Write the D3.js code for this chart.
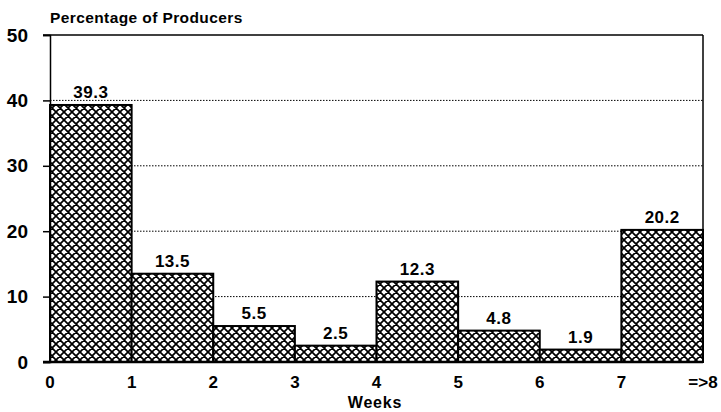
<!DOCTYPE html>
<html><head><meta charset="utf-8">
<script src="https://cdn.jsdelivr.net/npm/d3@7"></script>
<style>body{margin:0;background:#fff}text{font-family:"Liberation Sans",Arial,sans-serif;font-weight:bold;fill:#000}</style>
</head><body><svg id="c" width="721" height="412"></svg>
<script>
const weeksStart = [0,1,2,3,4,5,6,7];
const values = [39.3,13.5,5.5,2.5,12.3,4.8,1.9,20.2];
const xTickLabels = ["0","1","2","3","4","5","6","7","=>8"];
const yTicks = [0,10,20,30,40,50];

const svg = d3.select("#c");
const m = {l:50,r:703,t:35,b:362};
const x = d3.scaleLinear().domain([0,8]).range([m.l,m.r]);
const y = d3.scaleLinear().domain([0,50]).range([m.b,m.t]);

const defs = svg.append("defs");
const s = 8;
const p = defs.append("pattern").attr("id","hatch").attr("patternUnits","userSpaceOnUse").attr("width",s).attr("height",s);
p.append("rect").attr("width",s).attr("height",s).attr("fill","#fff");
p.append("path").attr("d",`M-1,1 L1,-1 M0,${s} L${s},0 M${s-1},${s+1} L${s+1},${s-1} M-1,${s-1} L1,${s+1} M0,0 L${s},${s} M${s-1},-1 L${s+1},1`).attr("stroke","#000").attr("stroke-width",1.7);

// gridlines
svg.append("g").selectAll("line").data(yTicks.filter(d=>d>0&&d<50)).join("line")
  .attr("x1",m.l).attr("x2",m.r).attr("y1",d=>y(d)).attr("y2",d=>y(d))
  .attr("stroke","#000").attr("stroke-width",1).attr("stroke-dasharray","1.5,1.5");

// frame top/right
svg.append("line").attr("x1",m.l-7).attr("x2",m.r).attr("y1",y(50)).attr("y2",y(50)).attr("stroke","#000").attr("stroke-width",1.5);
svg.append("line").attr("x1",m.r).attr("x2",m.r).attr("y1",y(50)).attr("y2",y(0)).attr("stroke","#000").attr("stroke-width",1.5);

// bars
svg.append("g").selectAll("rect").data(values).join("rect")
  .attr("x",(d,i)=>x(weeksStart[i])).attr("width",(d,i)=>x(weeksStart[i]+1)-x(weeksStart[i]))
  .attr("y",d=>y(d)).attr("height",d=>y(0)-y(d))
  .attr("fill","url(#hatch)").attr("stroke","#000").attr("stroke-width",2);

// bar labels
svg.append("g").selectAll("text").data(values).join("text")
  .attr("x",(d,i)=>x(weeksStart[i]+0.5)).attr("y",d=>y(d)-7)
  .attr("text-anchor","middle").attr("font-size",17).attr("letter-spacing",0.5).text(d=>d.toFixed(1));

// y axis
const ya = svg.append("g").attr("transform",`translate(${m.l},0)`).call(d3.axisLeft(y).tickValues(yTicks).tickSize(7).tickPadding(15));
ya.select(".domain").attr("stroke-width",1.5);
ya.selectAll(".tick line").attr("stroke-width",1.5);
ya.selectAll("text").attr("font-size",19).attr("font-family","Liberation Sans").attr("font-weight","bold");

// x axis baseline
svg.append("line").attr("x1",m.l-7).attr("x2",m.r).attr("y1",y(0)).attr("y2",y(0)).attr("stroke","#000").attr("stroke-width",2.5);

// x tick labels
svg.append("g").selectAll("text").data(xTickLabels).join("text")
  .attr("x",(d,i)=>x(i)).attr("y",388).attr("text-anchor","middle").attr("font-size",17).text(d=>d);

svg.append("text").attr("x",375).attr("y",408).attr("text-anchor","middle").attr("font-size",16).attr("letter-spacing",0.8).text("Weeks");
svg.append("text").attr("x",50).attr("y",23).attr("font-size",15.5).attr("letter-spacing",0.4).text("Percentage of Producers");
</script></body></html>
